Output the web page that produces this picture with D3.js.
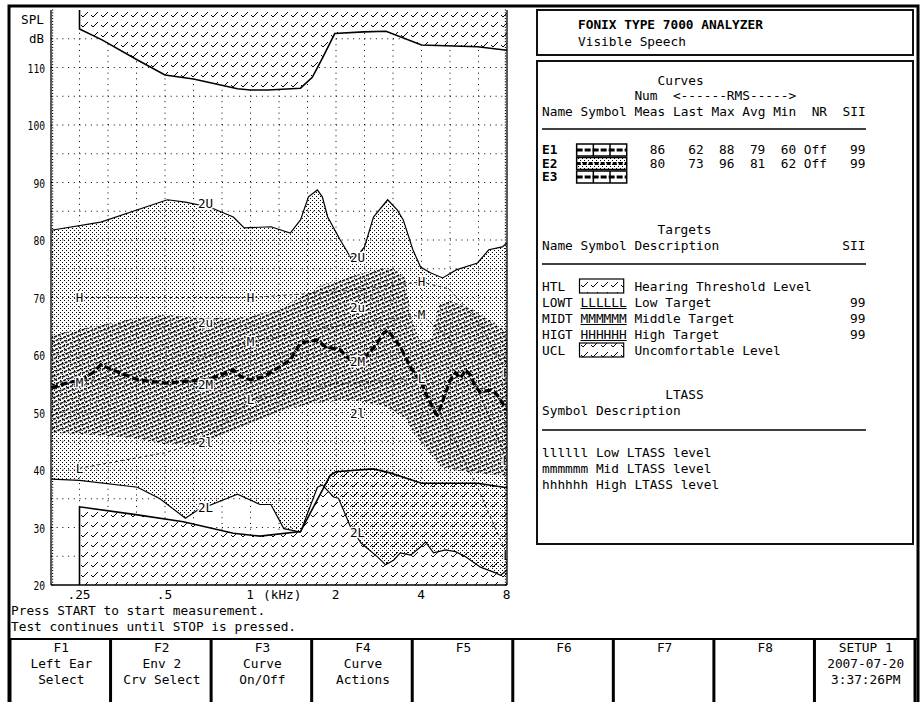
<!DOCTYPE html>
<html><head><meta charset="utf-8">
<script src="https://cdn.jsdelivr.net/npm/d3@7"></script>
<style>
html,body{margin:0;padding:0;background:#fff;}
svg{display:block;}
text{font-family:"DejaVu Sans Mono",monospace;fill:#000;font-size:12.8px;}
.lbl{font-size:12.5px;paint-order:stroke;stroke:#fff;stroke-width:3px;stroke-linejoin:round;}
</style></head><body>
<svg id="c" width="922" height="702"></svg>
<script>
// ---------- DATA (frequency in kHz, level in dB SPL) ----------
const tickFreqs = [0.25, 0.5, 1, 2, 4, 8];
const tickLabels = [".25", ".5", "1", "2", "4", "8"];
const yTicks = [20, 30, 40, 50, 60, 70, 80, 90, 100, 110];

const ucl = [[0.25,116.7],[0.30,114.8],[0.40,111.3],[0.50,108.7],[0.63,108.0],[0.90,106.3],[1.0,106.1],[1.15,106.1],[1.5,106.4],[1.65,108.3],[1.79,111.6],[1.98,115.9],[2.5,116.2],[3.0,116.3],[4.0,113.9],[6.3,113.6],[8.0,113.0]];
const htl = [[0.25,33.6],[0.40,32.2],[0.58,31.0],[0.87,29.0],[1.08,28.5],[1.5,29.3],[1.91,39.1],[2.0,39.7],[2.7,40.2],[3.1,39.5],[4.0,37.7],[6.3,37.7],[8.0,36.9]];

const e2Upper = [[0.199,81.7],[0.297,83.1],[0.51,87.0],[0.59,86.6],[0.72,85.7],[0.87,84.0],[0.95,82.1],[1.18,82.3],[1.38,81.2],[1.5,83.5],[1.6,87.5],[1.72,88.7],[1.79,87.5],[1.87,84.0],[2.07,80.0],[2.25,77.0],[2.4,77.5],[2.52,78.8],[2.71,84.0],[3.04,87.0],[3.29,85.2],[3.45,83.5],[3.73,78.3],[3.97,75.3],[4.30,74.3],[4.75,73.4],[5.3,74.8],[6.3,76.0],[6.9,78.3],[7.7,78.8],[8.0,79.5]];
const e2Lower = [[0.199,38.4],[0.25,38.2],[0.40,37.0],[0.48,35.0],[0.59,31.6],[0.65,33.0],[0.90,35.8],[1.08,34.0],[1.18,34.0],[1.31,29.8],[1.5,29.2],[1.72,37.0],[1.79,37.4],[1.96,35.3],[2.04,35.1],[2.25,30.1],[2.45,27.3],[2.80,24.9],[2.99,23.5],[3.19,24.3],[3.37,25.6],[3.66,25.2],[3.97,26.6],[4.13,27.5],[4.41,25.6],[4.86,26.1],[5.27,25.8],[5.72,24.9],[6.45,23.1],[7.29,22.1],[7.59,21.7],[8.0,22.6]];
const e2InnerUpper = [[0.199,63.5],[0.25,64.5],[0.32,65.5],[0.4,66.5],[0.5,67],[0.67,66.5],[0.87,66.5],[1.0,66.7],[1.25,68],[1.5,70],[1.75,72],[2.0,73],[2.4,74],[2.8,75],[3.2,75],[3.5,73.5],[3.7,66],[3.95,62.5],[4.35,63],[4.6,69],[5.0,69.5],[6.0,68],[7.0,66],[8.0,64]];
const e2InnerLower = [[0.199,46.5],[0.3,46],[0.4,45.5],[0.5,44.5],[0.67,44.5],[0.8,46],[1.0,48],[1.25,50],[1.6,51.5],[2.0,52],[2.4,52],[3.0,51],[3.5,49],[3.8,46],[4.7,40.5],[6.0,39.5],[8.0,39]];
const e2Avg = [[0.199,54.3],[0.232,55.3],[0.25,55.5],[0.28,57],[0.297,58.3],[0.335,57.2],[0.40,55.7],[0.506,55.1],[0.615,55.5],[0.72,55.8],[0.871,57.4],[0.922,56.3],[1.0,55.7],[1.11,56.2],[1.38,59.1],[1.5,62.1],[1.72,62.6],[1.84,61.4],[2.07,60.9],[2.2,59.5],[2.38,58.8],[2.54,59.7],[2.76,61.7],[2.94,63.8],[3.04,64.3],[3.24,62.6],[3.37,61.4],[3.51,59.7],[3.66,57.9],[3.81,56.5],[3.97,55.7],[4.13,53.4],[4.30,51.7],[4.48,49.9],[4.55,49.6],[4.67,51],[4.86,53.4],[5.06,55.7],[5.27,56.9],[5.49,56.0],[5.72,57.4],[5.95,56.5],[6.2,54.4],[6.45,53.6],[7.0,53.9],[7.29,53.4],[7.59,52.2],[7.9,50.8],[8.0,50.4]];

const targetH = [[0.25,70],[0.5,70],[1,70],[2,71],[4,72.7],[5,71.5],[6.3,66],[8,56.9]];
const targetM = [[0.25,55.3],[0.5,57.5],[1,62.3],[2,65],[4,67],[5,63],[6.3,54],[8,41.7]];
const targetL = [[0.25,40.3],[0.5,43],[0.65,44.7],[0.8,48],[1,52.2],[2,55],[4,56],[5,47],[6.3,37],[8,25.2]];
const targetNames = ["H","M","L"];
const targetLabelFreqs = [0.25, 1, 4, 8];

const curveLabelNames = ["2U","2u","2M","2l","2L"];
const curveLabelFreqs = [0.653, 2.24];
const curveLabelLeft = [86.3, 65.6, 54.8, 44.7, 33.4];
const curveLabelRight = [77.0, 68.2, 58.8, 49.9, 29.2];

const curveRows = ["E1","E2","E3"];
const curveMeas = ["86","80",""];
const curveLast = ["62","73",""];
const curveMax = ["88","96",""];
const curveAvgV = ["79","81",""];
const curveMin = ["60","62",""];
const curveNR = ["Off","Off",""];
const curveSII = ["99","99",""];

const targetRows = ["HTL","LOWT","MIDT","HIGT","UCL"];
const targetSymbols = ["#","LLLLLL","MMMMMM","HHHHHH","#"];
const targetDesc = ["Hearing Threshold Level","Low Target","Middle Target","High Target","Uncomfortable Level"];
const targetSII = ["","99","99","99",""];

const ltassSymbols = ["llllll","mmmmmm","hhhhhh"];
const ltassDesc = ["Low LTASS level","Mid LTASS level","High LTASS level"];

const fkeyLines = [["F1","Left Ear","Select"],["F2","Env 2","Crv Select"],["F3","Curve","On/Off"],["F4","Curve","Actions"],["F5"],["F6"],["F7"],["F8"],["SETUP 1","2007-07-20","3:37:26PM"]];

// ---------- DRAWING ----------
const svg = d3.select("#c");
const defs = svg.append("defs");
const st = defs.append("pattern").attr("id","stip").attr("patternUnits","userSpaceOnUse").attr("width",4).attr("height",4);
st.append("rect").attr("x",0).attr("y",0).attr("width",1).attr("height",1).attr("fill","#000");
st.append("rect").attr("x",2).attr("y",2).attr("width",1).attr("height",1).attr("fill","#000");
const ht = defs.append("pattern").attr("id","hatch").attr("patternUnits","userSpaceOnUse").attr("width",4).attr("height",4).attr("patternTransform","rotate(-22)");
ht.append("rect").attr("x",0).attr("y",0).attr("width",3).attr("height",1.5).attr("fill","#000");
const ck = defs.append("pattern").attr("id","check").attr("patternUnits","userSpaceOnUse").attr("width",10).attr("height",10);
ck.append("path").attr("d","M1,5 L3,7 L8,2").attr("fill","none").attr("stroke","#000").attr("stroke-width",1);
defs.append("clipPath").attr("id","plotclip").append("rect").attr("x",51).attr("y",10).attr("width",456).attr("height",575);

const x = d3.scaleLog().domain([0.25*Math.pow(2,-1/3), 8]).range([51, 507]);
const y = d3.scaleLinear().domain([20, 120]).range([585, 10]);
const line = d3.line().x(d=>x(d[0])).y(d=>y(d[1]));

// screen border
svg.append("rect").attr("x",9).attr("y",6).attr("width",909).attr("height",705).attr("fill","none").attr("stroke","#000").attr("stroke-width",3);

const plot = svg.append("g").attr("clip-path","url(#plotclip)");
// grid
const gridF = d3.range(0,15).map(k=>0.25*Math.pow(2,k/3));
const gridY = d3.range(25,120,5);
plot.selectAll("line.gx").data(gridF).join("line").attr("x1",d=>x(d)).attr("x2",d=>x(d)).attr("y1",10).attr("y2",585)
  .attr("stroke","#000").attr("stroke-width",1).attr("stroke-dasharray","1,4.7");
plot.selectAll("line.gy").data(gridY).join("line").attr("y1",d=>y(d)).attr("y2",d=>y(d)).attr("x1",51).attr("x2",507)
  .attr("stroke","#000").attr("stroke-width",1).attr("stroke-dasharray","1,4.7");

// UCL
const uclArea = d3.area().x(d=>x(d[0])).y0(y(120)).y1(d=>y(d[1]));
plot.append("path").attr("d",uclArea(ucl)).attr("fill","#fff");
plot.append("path").attr("d",uclArea(ucl)).attr("fill","url(#check)");
plot.append("path").attr("d",line([[0.25,120]].concat(ucl))).attr("fill","none").attr("stroke","#000").attr("stroke-width",1.6);
// HTL
const htlArea = d3.area().x(d=>x(d[0])).y0(y(20)).y1(d=>y(d[1]));
plot.append("path").attr("d",htlArea(htl)).attr("fill","#fff");
plot.append("path").attr("d",htlArea(htl)).attr("fill","url(#check)");

// E2 ranges
function band(up, lo){ return line(up) + line(lo.slice().reverse()).replace(/^M/,"L") + "Z"; }
plot.append("path").attr("d",band(e2Upper,e2Lower)).attr("fill","url(#stip)");
plot.append("path").attr("d",band(e2InnerUpper,e2InnerLower)).attr("fill","url(#hatch)");

plot.append("path").attr("d",line([[0.25,20]].concat(htl))).attr("fill","none").attr("stroke","#000").attr("stroke-width",1.6);

// targets
[targetH,targetM,targetL].forEach(t=>{
  plot.append("path").attr("d",line(t)).attr("fill","none").attr("stroke","#000").attr("stroke-width",0.8).attr("stroke-dasharray","3,3");
});
plot.append("path").attr("d",line(e2Upper)).attr("fill","none").attr("stroke","#000").attr("stroke-width",1.2);
plot.append("path").attr("d",line(e2Lower)).attr("fill","none").attr("stroke","#000").attr("stroke-width",1.2);
plot.append("path").attr("d",line(e2Avg)).attr("fill","none").attr("stroke","#000").attr("stroke-width",3.2).attr("stroke-dasharray","7,3");

// labels
[targetH,targetM,targetL].forEach((t,i)=>{
  targetLabelFreqs.forEach(f=>{
    const p = t.find(d=>d[0]===f);
    plot.append("text").attr("class","lbl").attr("x",x(f)).attr("y",y(p[1])).attr("dy","0.36em").attr("text-anchor","middle").text(targetNames[i]);
  });
});
curveLabelNames.forEach((n,i)=>{
  plot.append("text").attr("class","lbl").attr("x",x(curveLabelFreqs[0])).attr("y",y(curveLabelLeft[i])).attr("dy","0.36em").text(n);
  plot.append("text").attr("class","lbl").attr("x",x(curveLabelFreqs[1])).attr("y",y(curveLabelRight[i])).attr("dy","0.36em").text(n);
});

// axes
const tickDots = d3.range(20,120.01,0.5);
svg.append("line").attr("x1",51).attr("x2",51).attr("y1",10).attr("y2",585).attr("stroke","#000").attr("stroke-width",1.3);
svg.append("line").attr("x1",507).attr("x2",507).attr("y1",10).attr("y2",585).attr("stroke","#000").attr("stroke-width",1.3);
svg.selectAll("rect.td").data(tickDots).join("rect").attr("x",52).attr("y",d=>y(d)-0.5).attr("width",1.2).attr("height",1).attr("fill","#000");
svg.selectAll("rect.td2").data(tickDots).join("rect").attr("x",504.8).attr("y",d=>y(d)-0.5).attr("width",1.2).attr("height",1).attr("fill","#000");
svg.append("line").attr("x1",51).attr("x2",507).attr("y1",585).attr("y2",585).attr("stroke","#000").attr("stroke-width",1.6);

const ya = svg.append("g").attr("transform","translate(51,0)").call(d3.axisLeft(y).tickValues(yTicks).tickSize(0).tickPadding(6));
ya.select(".domain").remove();
ya.selectAll("text").attr("font-family","DejaVu Sans Mono").attr("font-size",14).attr("dy","0.36em")
  .attr("textLength",function(d){return String(d).length*5.8;}).attr("lengthAdjust","spacingAndGlyphs");
svg.append("text").attr("x",44).attr("y",19).attr("dy","0.36em").attr("text-anchor","end").attr("font-size",14).attr("textLength",23).attr("lengthAdjust","spacingAndGlyphs").text("SPL");
svg.append("text").attr("x",44).attr("y",38).attr("dy","0.36em").attr("text-anchor","end").attr("font-size",14).attr("textLength",15).attr("lengthAdjust","spacingAndGlyphs").text("dB");

const xa = svg.append("g").attr("transform","translate(0,585)").call(d3.axisBottom(x).tickValues(tickFreqs).tickFormat((d,i)=>tickLabels[i]).tickSize(0));
xa.select(".domain").remove();
xa.selectAll("text").attr("font-family","DejaVu Sans Mono").attr("font-size",12).attr("y",14).attr("dy",null).attr("x",-1);
svg.append("text").attr("x",263).attr("y",599).attr("font-size",12).text("(kHz)");

svg.append("text").attr("x",11).attr("y",615).text("Press START to start measurement.");
svg.append("text").attr("x",11).attr("y",631).text("Test continues until STOP is pressed.");

// right panel
const cw = 7.7, px0 = 542;
const col = c => px0 + c*cw;
svg.append("rect").attr("x",537).attr("y",10).attr("width",376).attr("height",45).attr("fill","none").attr("stroke","#111").attr("stroke-width",2);
svg.append("rect").attr("x",537).attr("y",61).attr("width",376).attr("height",483).attr("fill","none").attr("stroke","#111").attr("stroke-width",2);
svg.append("text").attr("x",578).attr("y",29).attr("font-weight","bold").attr("font-size",12.5).text("FONIX TYPE 7000 ANALYZER");
svg.append("text").attr("x",578).attr("y",46).text("Visible Speech");

function tx(c, yy, s, opt){ const t = svg.append("text").attr("x",col(c)).attr("y",yy).attr("xml:space","preserve").text(s); if(opt) t.attr("font-weight",opt); return t; }
tx(15, 85, "Curves");
tx(12, 100, "Num  <------RMS----->");
tx(0, 116, "Name Symbol Meas Last Max Avg Min  NR  SII");
svg.append("line").attr("x1",542).attr("x2",866).attr("y1",129).attr("y2",129).attr("stroke","#000").attr("stroke-width",1.5);
const rowY = [150,163.5,177];
const valEndCols = [16,21,25,29,33,37,42];
curveRows.forEach((r,i)=>{
  const yy = rowY[i];
  tx(0, yy+4, r, "bold").attr("font-size",11.5);
  [curveMeas,curveLast,curveMax,curveAvgV,curveMin,curveNR,curveSII].forEach((arr,k)=>{
    svg.append("text").attr("x",col(valEndCols[k])).attr("y",yy+4).attr("font-size",11.5).attr("text-anchor","end").text(arr[i]);
  });
  const bx = col(4.5), bw = col(11)-col(4.5), by = yy-6, bh = 12;
  if (i===1) svg.append("rect").attr("x",bx).attr("y",by).attr("width",bw).attr("height",bh).attr("fill","url(#stip)");
  svg.append("rect").attr("x",bx).attr("y",by).attr("width",bw).attr("height",bh).attr("fill","none").attr("stroke","#000").attr("stroke-width",1.5);
  svg.append("line").attr("x1",bx).attr("x2",bx+bw).attr("y1",yy).attr("y2",yy).attr("stroke","#000").attr("stroke-width",3).attr("stroke-dasharray",i===1?"4,2":"6,2");
  if (i!==1) [bx+bw/3, bx+2*bw/3].forEach(xx=>svg.append("line").attr("x1",xx).attr("x2",xx).attr("y1",by).attr("y2",by+bh).attr("stroke","#000").attr("stroke-width",1.5));
});

tx(15, 234, "Targets");
tx(0, 250, "Name Symbol Description");
tx(39, 250, "SII");
svg.append("line").attr("x1",542).attr("x2",866).attr("y1",264).attr("y2",264).attr("stroke","#000").attr("stroke-width",1.5);
const tRowY = [286,302,318,334,350];
targetRows.forEach((r,i)=>{
  const yy = tRowY[i];
  tx(0, yy+4.5, r);
  if (targetSymbols[i]==="#") {
    svg.append("rect").attr("x",col(5)-1).attr("y",yy-7).attr("width",col(11)-col(5)-2).attr("height",14).attr("fill","url(#check)").attr("stroke","#000").attr("stroke-width",1.2);
  } else {
    tx(5, yy+4.5, targetSymbols[i]);
    svg.append("line").attr("x1",col(5)).attr("x2",col(11)).attr("y1",yy+6.5).attr("y2",yy+6.5).attr("stroke","#000").attr("stroke-width",1);
  }
  tx(12, yy+4.5, targetDesc[i]);
  svg.append("text").attr("x",col(42)).attr("y",yy+4.5).attr("text-anchor","end").text(targetSII[i]);
});

tx(16, 399, "LTASS");
tx(0, 415, "Symbol Description");
svg.append("line").attr("x1",542).attr("x2",866).attr("y1",430).attr("y2",430).attr("stroke","#000").attr("stroke-width",1.5);
const lRowY = [452,468,484];
ltassSymbols.forEach((s,i)=>{
  tx(0, lRowY[i]+4.5, s);
  tx(7, lRowY[i]+4.5, ltassDesc[i]);
});

// function keys
const fTop = 639;
svg.append("line").attr("x1",9).attr("x2",918).attr("y1",fTop).attr("y2",fTop).attr("stroke","#000").attr("stroke-width",2);
const fw = (915-10)/9;
d3.range(0,10).forEach(i=>{
  svg.append("line").attr("x1",10+i*fw).attr("x2",10+i*fw).attr("y1",fTop).attr("y2",702).attr("stroke","#000").attr("stroke-width",3);
});
const fLineY = [652,668,684];
fkeyLines.forEach((ls,i)=>{
  ls.forEach((s,j)=>{
    svg.append("text").attr("x",10+i*fw+fw/2+1).attr("y",fLineY[j]).attr("text-anchor","middle").attr("xml:space","preserve").text(s);
  });
});
</script>
</body></html>
